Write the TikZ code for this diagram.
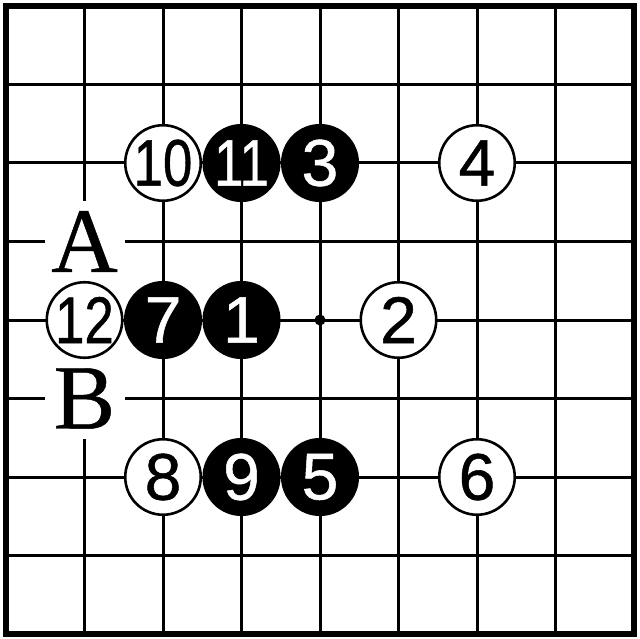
\documentclass[tikz,border=0pt]{standalone}
\usepackage{graphicx}
\usepackage{fontspec}
\setmainfont{Liberation Sans}
\newfontfamily\digfont[FakeBold=0.8]{Liberation Sans}
\newfontfamily\lblfont[FakeBold=0.5]{Liberation Serif}
\tikzset{
  stonew/.style={circle,draw=black,line width=2.6pt,fill=white,minimum size=75.5pt,inner sep=0pt,
    font=\digfont\fontsize{66}{66}\selectfont,text=black},
  stoneb/.style={circle,draw=black,line width=2.6pt,fill=black,minimum size=75.5pt,inner sep=0pt,
    font=\digfont\fontsize{66}{66}\selectfont,text=white},
  lbl/.style={fill=white,minimum size=80pt,inner sep=0pt,font=\lblfont\fontsize{92}{92}\selectfont},
  gridln/.style={line width=3pt,line cap=rect},
  frame/.style={line width=5.5pt}
}
\newcommand{\two}[1]{\scalebox{0.8}[1]{#1}}
\begin{document}
\begin{tikzpicture}[x=78.5pt,y=-78.5pt]
\useasboundingbox (-6pt,6pt) rectangle (634pt,-633pt);
% grid
\foreach \k in {1,...,7}{
  \draw[gridln] (\k,0) -- (\k,8);
  \draw[gridln] (0,\k) -- (8,\k);
}
\draw[frame] (0,0) rectangle (8,8);
% star point
\fill (4,4) circle (5.5pt);
\node[draw=none] (star) at (4,4) {};
% labels
\node[lbl] (A) at (1,3) {A};
\node[lbl] (B) at (1,5) {B};
% stones
\node[stonew] (s10) at (2,2) {\two{10}};
\node[stoneb] (s11) at (3,2) {\two{11}};
\node[stoneb] (s3) at (4,2) {3};
\node[stonew] (s4) at (6,2) {4};
\node[stonew] (s12) at (1,4) {\two{12}};
\node[stoneb] (s7) at (2,4) {7};
\node[stoneb] (s1) at (3,4) {1};
\node[stonew] (s2) at (5,4) {2};
\node[stonew] (s8) at (2,6) {8};
\node[stoneb] (s9) at (3,6) {9};
\node[stoneb] (s5) at (4,6) {5};
\node[stonew] (s6) at (6,6) {6};
\end{tikzpicture}
\end{document}
